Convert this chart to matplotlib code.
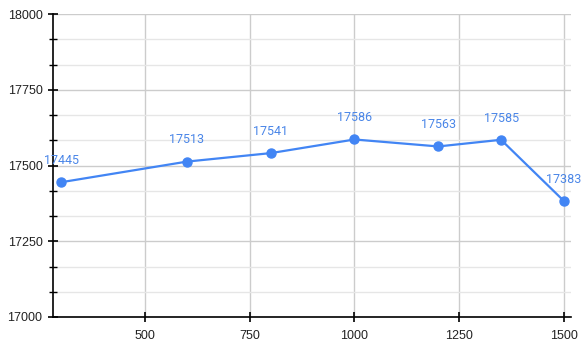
import matplotlib.pyplot as plt
from matplotlib.ticker import MultipleLocator

x_vals = [300, 600, 800, 1000, 1200, 1350, 1500]
y_vals = [17445, 17513, 17541, 17586, 17563, 17585, 17383]

blue = '#4285f4'
plt.rcParams['font.family'] = ['Liberation Sans', 'DejaVu Sans']

fig = plt.figure(figsize=(5.86, 3.45), dpi=100)
ax = fig.add_axes([0.0904, 0.0812, 0.884, 0.878])

ax.plot(x_vals, y_vals, color=blue, linewidth=1.6, marker='o', markersize=6.5, zorder=3, clip_on=False)
for x, y in zip(x_vals, y_vals):
    ax.annotate(str(y), (x, y), xytext=(0, 11), textcoords='offset points',
                ha='center', va='bottom', color='#4a86e8', fontsize=9,
                family=['Roboto', 'DejaVu Sans'])

ax.set_xlim(280, 1517)
ax.set_ylim(17000, 18000)
ax.xaxis.set_major_locator(MultipleLocator(250))
ax.yaxis.set_major_locator(MultipleLocator(250))
ax.yaxis.set_minor_locator(MultipleLocator(250 / 3))

ax.grid(True, which='major', color='#cccccc', linewidth=1)
ax.grid(True, which='minor', axis='y', color='#e6e6e6', linewidth=1)
ax.set_axisbelow(True)

for s in ['top', 'right']:
    ax.spines[s].set_visible(False)
for s in ['left', 'bottom']:
    ax.spines[s].set_color('black')
    ax.spines[s].set_linewidth(1.2)

ax.tick_params(axis='y', which='both', direction='inout', length=7, width=1.2, labelsize=9, pad=4)
ax.tick_params(axis='x', which='major', direction='inout', length=7, width=1.2, labelsize=9, pad=6)
ax.tick_params(axis='y', which='minor', direction='inout', length=6, width=1)
ax.tick_params(labelcolor='#222222')

plt.savefig('out.png', dpi=100)
